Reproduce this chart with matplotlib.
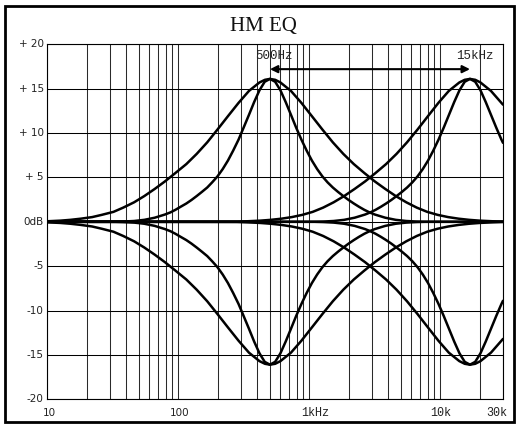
import matplotlib
matplotlib.use("Agg")
import matplotlib.pyplot as plt
from matplotlib.patches import Rectangle
from matplotlib.ticker import LogLocator, NullLocator
import matplotlib.transforms as mtransforms

# curves (Hz, dB)
n500_f = [10, 32, 38, 46, 55, 66, 79, 87, 95, 104, 115, 126, 138, 151, 166, 181, 199, 218, 239, 262,
          288, 315, 346, 379, 416, 456, 500, 548, 601, 659, 723, 792, 869, 953, 1045, 1146, 1256,
          1377, 1510, 1656, 1815, 1991, 2183, 2393, 2624, 2877, 3155, 3793, 4560, 5482, 6591, 7924, 30000]
n500_db = [0, 0, 0.03, 0.09, 0.22, 0.46, 0.82, 1.06, 1.35, 1.69, 2.06, 2.46, 2.90, 3.36, 3.86, 4.44, 5.12, 5.94, 6.9, 8.02,
           9.26, 10.62, 12.06, 13.5, 14.82, 15.78, 16.1, 15.78, 14.82, 13.5, 12.06, 10.62, 9.26, 8.02, 6.9, 5.94, 5.12,
           4.44, 3.86, 3.36, 2.90, 2.46, 2.06, 1.69, 1.35, 1.06, 0.82, 0.46, 0.22, 0.09, 0.03, 0, 0]

w500_f = [10, 12.6, 15, 18, 22, 26, 32, 38, 46, 55, 66, 79, 95, 115, 138, 166, 199, 239, 288, 346,
          416, 458, 500, 548, 601, 723, 869, 1045, 1256, 1510, 1815, 2183, 2624, 3155, 3793, 4560,
          5482, 6591, 7924, 9526, 11450, 13770, 16560, 19900, 25060, 30000]
w500_db = [0.06, 0.13, 0.22, 0.35, 0.53, 0.78, 1.12, 1.6, 2.2, 2.9, 3.7, 4.55, 5.5, 6.5, 7.65, 8.95, 10.4, 11.9, 13.4, 14.75,
           15.7, 16.0, 16.1, 16.0, 15.7, 14.75, 13.4, 11.9, 10.4, 8.95, 7.65, 6.5, 5.5, 4.55, 3.7, 2.9,
           2.2, 1.6, 1.12, 0.78, 0.53, 0.35, 0.22, 0.13, 0.06, 0.02]

n16k_f = [10, 1060, 1274, 1532, 1841, 2214, 2661, 2918, 3200, 3509, 3848, 4219, 4626, 5073, 5562, 6099,
          6688, 7332, 8040, 8815, 9667, 10600, 11620, 12740, 13970, 15320, 16800, 18420, 20200,
          22150, 24290, 26640, 29200, 30000]
n16k_db = [0, 0, 0.03, 0.09, 0.22, 0.46, 0.82, 1.06, 1.35, 1.69, 2.06, 2.46, 2.90, 3.36, 3.86, 4.44,
           5.12, 5.94, 6.9, 8.02, 9.26, 10.62, 12.06, 13.5, 14.82, 15.78, 16.1, 15.78, 14.82,
           13.5, 12.06, 10.62, 9.26, 8.9]

w16k_f = [10, 280, 335, 422, 507, 611, 734, 882, 1060, 1274, 1532, 1841, 2213, 2661, 3198, 3844,
          4621, 5554, 6688, 8024, 9646, 11590, 13940, 15320, 16800, 18420, 20200, 24280, 30000]
w16k_db = [0, 0.02, 0.06, 0.13, 0.22, 0.35, 0.53, 0.78, 1.12, 1.6, 2.2, 2.9, 3.7, 4.55, 5.5, 6.5,
           7.65, 8.95, 10.4, 11.9, 13.4, 14.75, 15.7, 16.0, 16.1, 16.0, 15.7, 14.75, 13.2]

# cut curves, same frequencies, read below the 0dB line
n500_cut = [0, 0, -0.03, -0.09, -0.22, -0.46, -0.82, -1.06, -1.35, -1.69, -2.06, -2.46, -2.90, -3.36, -3.86, -4.44, -5.12, -5.94, -6.9, -8.02,
            -9.26, -10.62, -12.06, -13.5, -14.82, -15.78, -16.1, -15.78, -14.82, -13.5, -12.06, -10.62, -9.26, -8.02, -6.9, -5.94, -5.12,
            -4.44, -3.86, -3.36, -2.90, -2.46, -2.06, -1.69, -1.35, -1.06, -0.82, -0.46, -0.22, -0.09, -0.03, 0, 0]
w500_cut = [-0.06, -0.13, -0.22, -0.35, -0.53, -0.78, -1.12, -1.6, -2.2, -2.9, -3.7, -4.55, -5.5, -6.5, -7.65, -8.95, -10.4, -11.9, -13.4, -14.75,
            -15.7, -16.0, -16.1, -16.0, -15.7, -14.75, -13.4, -11.9, -10.4, -8.95, -7.65, -6.5, -5.5, -4.55, -3.7, -2.9,
            -2.2, -1.6, -1.12, -0.78, -0.53, -0.35, -0.22, -0.13, -0.06, -0.02]
n16k_cut = [0, 0, -0.03, -0.09, -0.22, -0.46, -0.82, -1.06, -1.35, -1.69, -2.06, -2.46, -2.90, -3.36, -3.86, -4.44,
            -5.12, -5.94, -6.9, -8.02, -9.26, -10.62, -12.06, -13.5, -14.82, -15.78, -16.1, -15.78, -14.82,
            -13.5, -12.06, -10.62, -9.26, -8.9]
w16k_cut = [0, -0.02, -0.06, -0.13, -0.22, -0.35, -0.53, -0.78, -1.12, -1.6, -2.2, -2.9, -3.7, -4.55, -5.5, -6.5,
            -7.65, -8.95, -10.4, -11.9, -13.4, -14.75, -15.7, -16.0, -16.1, -16.0, -15.7, -14.75, -13.2]

y_ticks = [20, 15, 10, 5, 0, -5, -10, -15, -20]
y_labels = ["+ 20", "+ 15", "+ 10", "+ 5", "0dB", "-5", "-10", "-15", "-20"]
x_ticks = [10, 100, 1000, 10000, 30000]
x_labels = ["10", "100", "1kHz", "10k", "30k"]
band_freqs = [500, 16800]
band_labels = ["500Hz", "15kHz"]

MONO = "Liberation Mono"

fig = plt.figure(figsize=(5.18, 4.26), dpi=100)
ax = fig.add_axes([0.0913, 0.0627, 0.8797, 0.8333])

ax.set_xscale("log")
ax.set_xlim(10, 30000)
ax.set_ylim(-20, 20)
ax.xaxis.set_major_locator(LogLocator(base=10, subs=range(1, 10)))
ax.xaxis.set_minor_locator(NullLocator())
ax.set_yticks(y_ticks)
ax.grid(True, axis="x", color="#2a2a2a", lw=0.75)
ax.grid(True, axis="y", color="black", lw=0.75)
ax.tick_params(length=0, labelbottom=False, labelleft=False)
for sp in ax.spines.values():
    sp.set_linewidth(0.8)

curves = [(n500_f, n500_db), (w500_f, w500_db), (n16k_f, n16k_db), (w16k_f, w16k_db),
          (n500_f, n500_cut), (w500_f, w500_cut), (n16k_f, n16k_cut), (w16k_f, w16k_cut)]
for f, db in curves:
    ax.plot(f, db, color="black", lw=1.8, solid_capstyle="round", solid_joinstyle="round", zorder=3)

# y labels
ytr = mtransforms.blended_transform_factory(ax.transAxes, ax.transData)
for v, lab in zip(y_ticks, y_labels):
    ax.text(-0.008, v, lab, transform=ytr, ha="right", va="center", fontsize=7.5, color="#222")

# x labels
xtr = mtransforms.blended_transform_factory(ax.transData, ax.transAxes)
for v, lab in zip(x_ticks, x_labels):
    if lab == "1kHz":
        ax.text(v * 0.87, -0.047, lab, transform=xtr, ha="left", va="baseline",
                fontsize=8.5, family=MONO, color="#222")
    elif lab == "30k":
        ax.text(v * 1.08, -0.047, lab, transform=xtr, ha="right", va="baseline",
                fontsize=8.5, family=MONO, color="#222")
    elif lab in ("10", "100"):
        ax.text(v * 1.03, -0.047, lab, transform=xtr, ha="center", va="baseline",
                fontsize=7.5, color="#222")
    else:
        ax.text(v, -0.047, lab, transform=xtr, ha="center", va="baseline",
                fontsize=8.5, family=MONO, color="#222")

# band arrow and labels
ax.annotate("", xy=(band_freqs[0], 17.2), xytext=(band_freqs[1], 17.2),
            arrowprops=dict(arrowstyle="<|-|>", color="black", lw=1.5,
                            mutation_scale=11, shrinkA=0, shrinkB=0), zorder=4)
ax.text(537, 18.4, band_labels[0], ha="center", va="baseline", fontsize=9, family=MONO, color="#222")
ax.text(18300, 18.4, band_labels[1], ha="center", va="baseline", fontsize=9, family=MONO, color="#222")

fig.text(0.508, 0.927, "HM EQ", ha="center", va="baseline", fontsize=15,
         family="Liberation Serif", color="#111")

fig.patches.append(Rectangle((5 / 518, 4 / 426), 509 / 518, 416.5 / 426, transform=fig.transFigure,
                             fill=False, lw=2.0, edgecolor="black"))

fig.savefig("out.png", dpi=100)
